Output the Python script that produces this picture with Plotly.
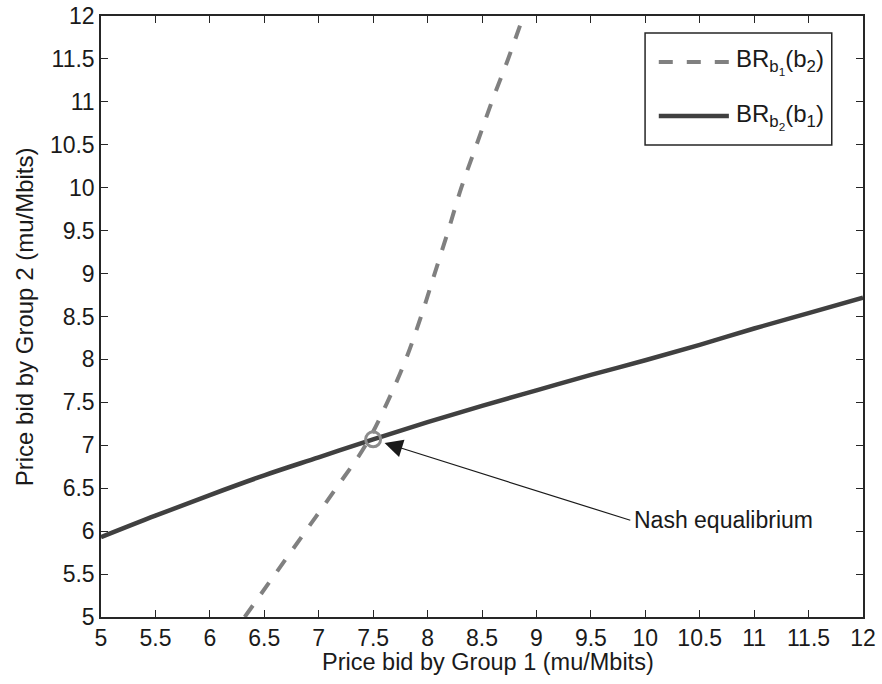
import plotly.graph_objects as go

# ---- data ----
# Best response of group 1 (x) as a function of group 2's bid (y)
br1_b2 = [5.0, 5.5, 6.0, 6.5, 7.0, 7.5, 8.0, 8.5, 9.0, 9.5, 10.0, 10.5, 11.0, 11.5, 12.0]
br1_b1 = [6.32, 6.60, 6.88, 7.16, 7.43, 7.63, 7.80, 7.94, 8.065, 8.19, 8.31, 8.45, 8.59, 8.74, 8.88]

# Best response of group 2 (y) as a function of group 1's bid (x)
br2_b1 = [5.0, 5.5, 6.0, 6.5, 7.0, 7.5, 8.0, 8.5, 9.0, 9.5, 10.0, 10.5, 11.0, 11.5, 12.0]
br2_b2 = [5.93, 6.18, 6.42, 6.65, 6.86, 7.07, 7.27, 7.46, 7.64, 7.82, 7.99, 8.17, 8.36, 8.54, 8.72]

nash_b1 = [7.5]
nash_b2 = [7.07]
arrow_tail = (9.876, 6.121)

tick_vals = [5, 5.5, 6, 6.5, 7, 7.5, 8, 8.5, 9, 9.5, 10, 10.5, 11, 11.5, 12]

x_title = "Price bid by Group 1 (mu/Mbits)"
y_title = "Price bid by Group 2 (mu/Mbits)"
legend_names = ["BR<sub>b<sub>1</sub></sub>(b<sub>2</sub>)",
                "BR<sub>b<sub>2</sub></sub>(b<sub>1</sub>)"]

FONT = "Liberation Sans, Arial, Helvetica, sans-serif"
AX = "#262626"
TXT = "#1a1a1a"
C_DASH = "#808080"
C_SOLID = "#404040"

fig = go.Figure()
fig.add_trace(go.Scatter(x=br1_b1, y=br1_b2, mode="lines", line_shape="spline",
                         line=dict(color=C_DASH, width=4, dash="14px,14px"),
                         showlegend=False, hoverinfo="skip"))
fig.add_trace(go.Scatter(x=br2_b1, y=br2_b2, mode="lines", line_shape="spline",
                         line=dict(color=C_SOLID, width=4.5),
                         showlegend=False, hoverinfo="skip"))
fig.add_trace(go.Scatter(x=nash_b1, y=nash_b2, mode="markers",
                         marker=dict(symbol="circle-open", size=15, color="#8c8c8c",
                                     line=dict(width=3, color="#8c8c8c")),
                         showlegend=False, hoverinfo="skip"))

axis_common = dict(range=[5, 12], tickvals=tick_vals, ticks="inside", ticklen=7,
                   tickcolor=AX, tickwidth=1, showline=True, linecolor=AX, linewidth=1.5,
                   mirror="ticks", showgrid=False, zeroline=False, automargin=False,
                   tickfont=dict(family=FONT, size=23, color=TXT))

fig.update_xaxes(**axis_common)
fig.update_yaxes(**axis_common)

# manual legend
shapes = [
    dict(type="rect", xref="paper", yref="paper", x0=0.714, x1=0.959, y0=0.7854, y1=0.9717,
         line=dict(color=AX, width=1.5), fillcolor="white", layer="above"),
    dict(type="line", xref="paper", yref="paper", x0=0.732, x1=0.824, y0=0.9235, y1=0.9235,
         line=dict(color=C_DASH, width=4, dash="14px,14px"), layer="above"),
    dict(type="line", xref="paper", yref="paper", x0=0.732, x1=0.824, y0=0.8336, y1=0.8336,
         line=dict(color=C_SOLID, width=4.5), layer="above"),
]
annotations = [
    dict(xref="paper", yref="paper", x=0.5075, y=-0.0749, text=x_title, showarrow=False,
         xanchor="center", yanchor="middle", font=dict(family=FONT, size=23.5, color=TXT)),
    dict(xref="paper", yref="paper", x=-0.1, y=0.5, text=y_title, showarrow=False,
         textangle=-90, xanchor="center", yanchor="middle",
         font=dict(family=FONT, size=24, color=TXT)),
    dict(xref="paper", yref="paper", x=0.831, y=0.9235, text=legend_names[0], showarrow=False,
         xanchor="left", yanchor="middle", font=dict(family=FONT, size=24, color=TXT)),
    dict(xref="paper", yref="paper", x=0.831, y=0.8336, text=legend_names[1], showarrow=False,
         xanchor="left", yanchor="middle", font=dict(family=FONT, size=24, color=TXT)),
    dict(x=nash_b1[0], y=nash_b2[0], ax=arrow_tail[0], ay=arrow_tail[1], axref="x", ayref="y",
         xref="x", yref="y", text="", showarrow=True, arrowhead=2, arrowsize=3,
         arrowwidth=1.2, arrowcolor=TXT, standoff=12),
    dict(x=arrow_tail[0], y=6.133, xref="x", yref="y", text="Nash equalibrium", showarrow=False,
         xanchor="left", yanchor="middle", font=dict(family=FONT, size=23, color=TXT)),
]

fig.update_layout(width=882, height=684, margin=dict(l=101, r=19, t=16, b=67),
                  plot_bgcolor="white", paper_bgcolor="white",
                  shapes=shapes, annotations=annotations, showlegend=False)

fig.write_html("out.html", config={"displayModeBar": False},
               post_script="document.body.style.margin='0';document.body.style.padding='0';")
